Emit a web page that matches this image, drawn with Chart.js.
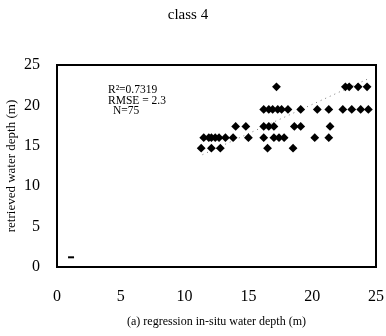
<!DOCTYPE html>
<html>
<head>
<meta charset="utf-8">
<script src="https://cdn.jsdelivr.net/npm/chart.js@4/dist/chart.umd.min.js"></script>
<style>
html,body{margin:0;padding:0;background:#fff;}
canvas{display:block;}
</style>
</head>
<body>
<canvas id="c" width="386" height="336"></canvas>
<script>
// In-situ depth (x) and retrieved depth (y) for class 4
const insituDepth = [
  17.2, 22.6, 22.9, 23.6, 24.3,
  16.2, 16.6, 16.9, 17.3, 17.6, 18.1, 19.1, 20.4, 21.3, 22.4, 23.1, 23.8, 24.4,
  14.0, 14.8, 16.2, 16.6, 17.0, 18.6, 19.1, 21.4,
  11.5, 11.9, 12.1, 12.4, 12.7, 13.2, 13.8, 15.0, 16.2, 17.0, 17.4, 17.8, 20.2, 21.3,
  11.3, 12.1, 12.8, 16.5, 18.5
];
const retrievedDepth = [
  22.3, 22.3, 22.3, 22.3, 22.3,
  19.5, 19.5, 19.5, 19.5, 19.5, 19.5, 19.5, 19.5, 19.5, 19.5, 19.5, 19.5, 19.5,
  17.4, 17.4, 17.4, 17.4, 17.4, 17.4, 17.4, 17.4,
  16.0, 16.0, 16.0, 16.0, 16.0, 16.0, 16.0, 16.0, 16.0, 16.0, 16.0, 16.0, 16.0, 16.0,
  14.7, 14.7, 14.7, 14.7, 14.7
];
const markerX = [1.1];
const markerY = [1.2];
const trendX = [11.4, 24.4];
const trendY = [13.9, 23.3];
const xTicks = [0, 5, 10, 15, 20, 25];
const yTicks = [0, 5, 10, 15, 20, 25];
const statsText = ["R\u00B2=0.7319", "RMSE = 2.3", " N=75"];
const titleText = "class 4";
const xTitle = "(a) regression in-situ water depth (m)";
const yTitle = "retrieved water depth (m)";

const serif = "'Liberation Serif', 'Times New Roman', serif";

const pts = insituDepth.map((x, i) => ({x: x, y: retrievedDepth[i]}));
const mk = markerX.map((x, i) => ({x: x, y: markerY[i]}));
const tr = trendX.map((x, i) => ({x: x, y: trendY[i]}));

const boxPlugin = {
  id: 'box',
  afterDatasetsDraw(chart) {
    const {ctx, chartArea: a} = chart;
    ctx.save();
    ctx.strokeStyle = '#000';
    ctx.lineWidth = 2;
    ctx.strokeRect(a.left, a.top, a.right - a.left, a.bottom - a.top);
    ctx.fillStyle = '#000';
    ctx.font = "11.5px " + serif;
    ctx.textBaseline = 'middle';
    ctx.textAlign = 'left';
    ctx.fillText(statsText[0], 108, 90);
    ctx.fillText(statsText[1], 108, 100.5);
    ctx.fillText(statsText[2], 110, 111);
    ctx.restore();
  }
};

new Chart(document.getElementById('c'), {
  type: 'scatter',
  data: {
    datasets: [
      {
        data: tr, type: 'line', showLine: true, borderColor: '#777',
        borderWidth: 1, borderDash: [1, 4], pointRadius: 0, fill: false, order: 2
      },
      {
        data: pts, pointStyle: 'rectRot', pointRadius: 4.4,
        backgroundColor: '#000', borderColor: '#000', borderWidth: 0, order: 1
      },
      {
        data: mk, pointStyle: 'line', pointRadius: 3,
        borderColor: '#000', borderWidth: 2, order: 1
      }
    ]
  },
  options: {
    responsive: false,
    animation: false,
    layout: {padding: {left: 0, right: 10, top: 0, bottom: 0}},
    plugins: {
      legend: {display: false},
      tooltip: {enabled: false},
      title: {
        display: true, text: titleText, color: '#000',
        font: {family: serif, size: 15, weight: 'normal'},
        padding: {top: 6, bottom: 41}
      }
    },
    scales: {
      x: {
        type: 'linear', min: 0, max: 25,
        afterBuildTicks(s) { s.ticks = xTicks.map(v => ({value: v})); },
        afterFit(s) { s.height = 69; s.paddingLeft = 0; s.paddingRight = 0; },
        grid: {display: false, drawTicks: false},
        border: {display: false},
        ticks: {color: '#000', padding: 20, font: {family: serif, size: 16}, maxRotation: 0},
        title: {display: true, text: xTitle, color: '#000',
          font: {family: serif, size: 12}, padding: {top: 0, bottom: 7}}
      },
      y: {
        type: 'linear', min: 0, max: 25,
        afterBuildTicks(s) { s.ticks = yTicks.map(v => ({value: v})); },
        afterFit(s) { s.width = 57; s.paddingTop = 0; s.paddingBottom = 0; },
        grid: {display: false, drawTicks: false},
        border: {display: false},
        ticks: {color: '#000', padding: 17, font: {family: serif, size: 16}},
        title: {display: true, text: yTitle, color: '#000',
          font: {family: serif, size: 13}, padding: {top: 4, bottom: 0}}
      }
    }
  },
  plugins: [boxPlugin]
});
</script>
</body>
</html>
